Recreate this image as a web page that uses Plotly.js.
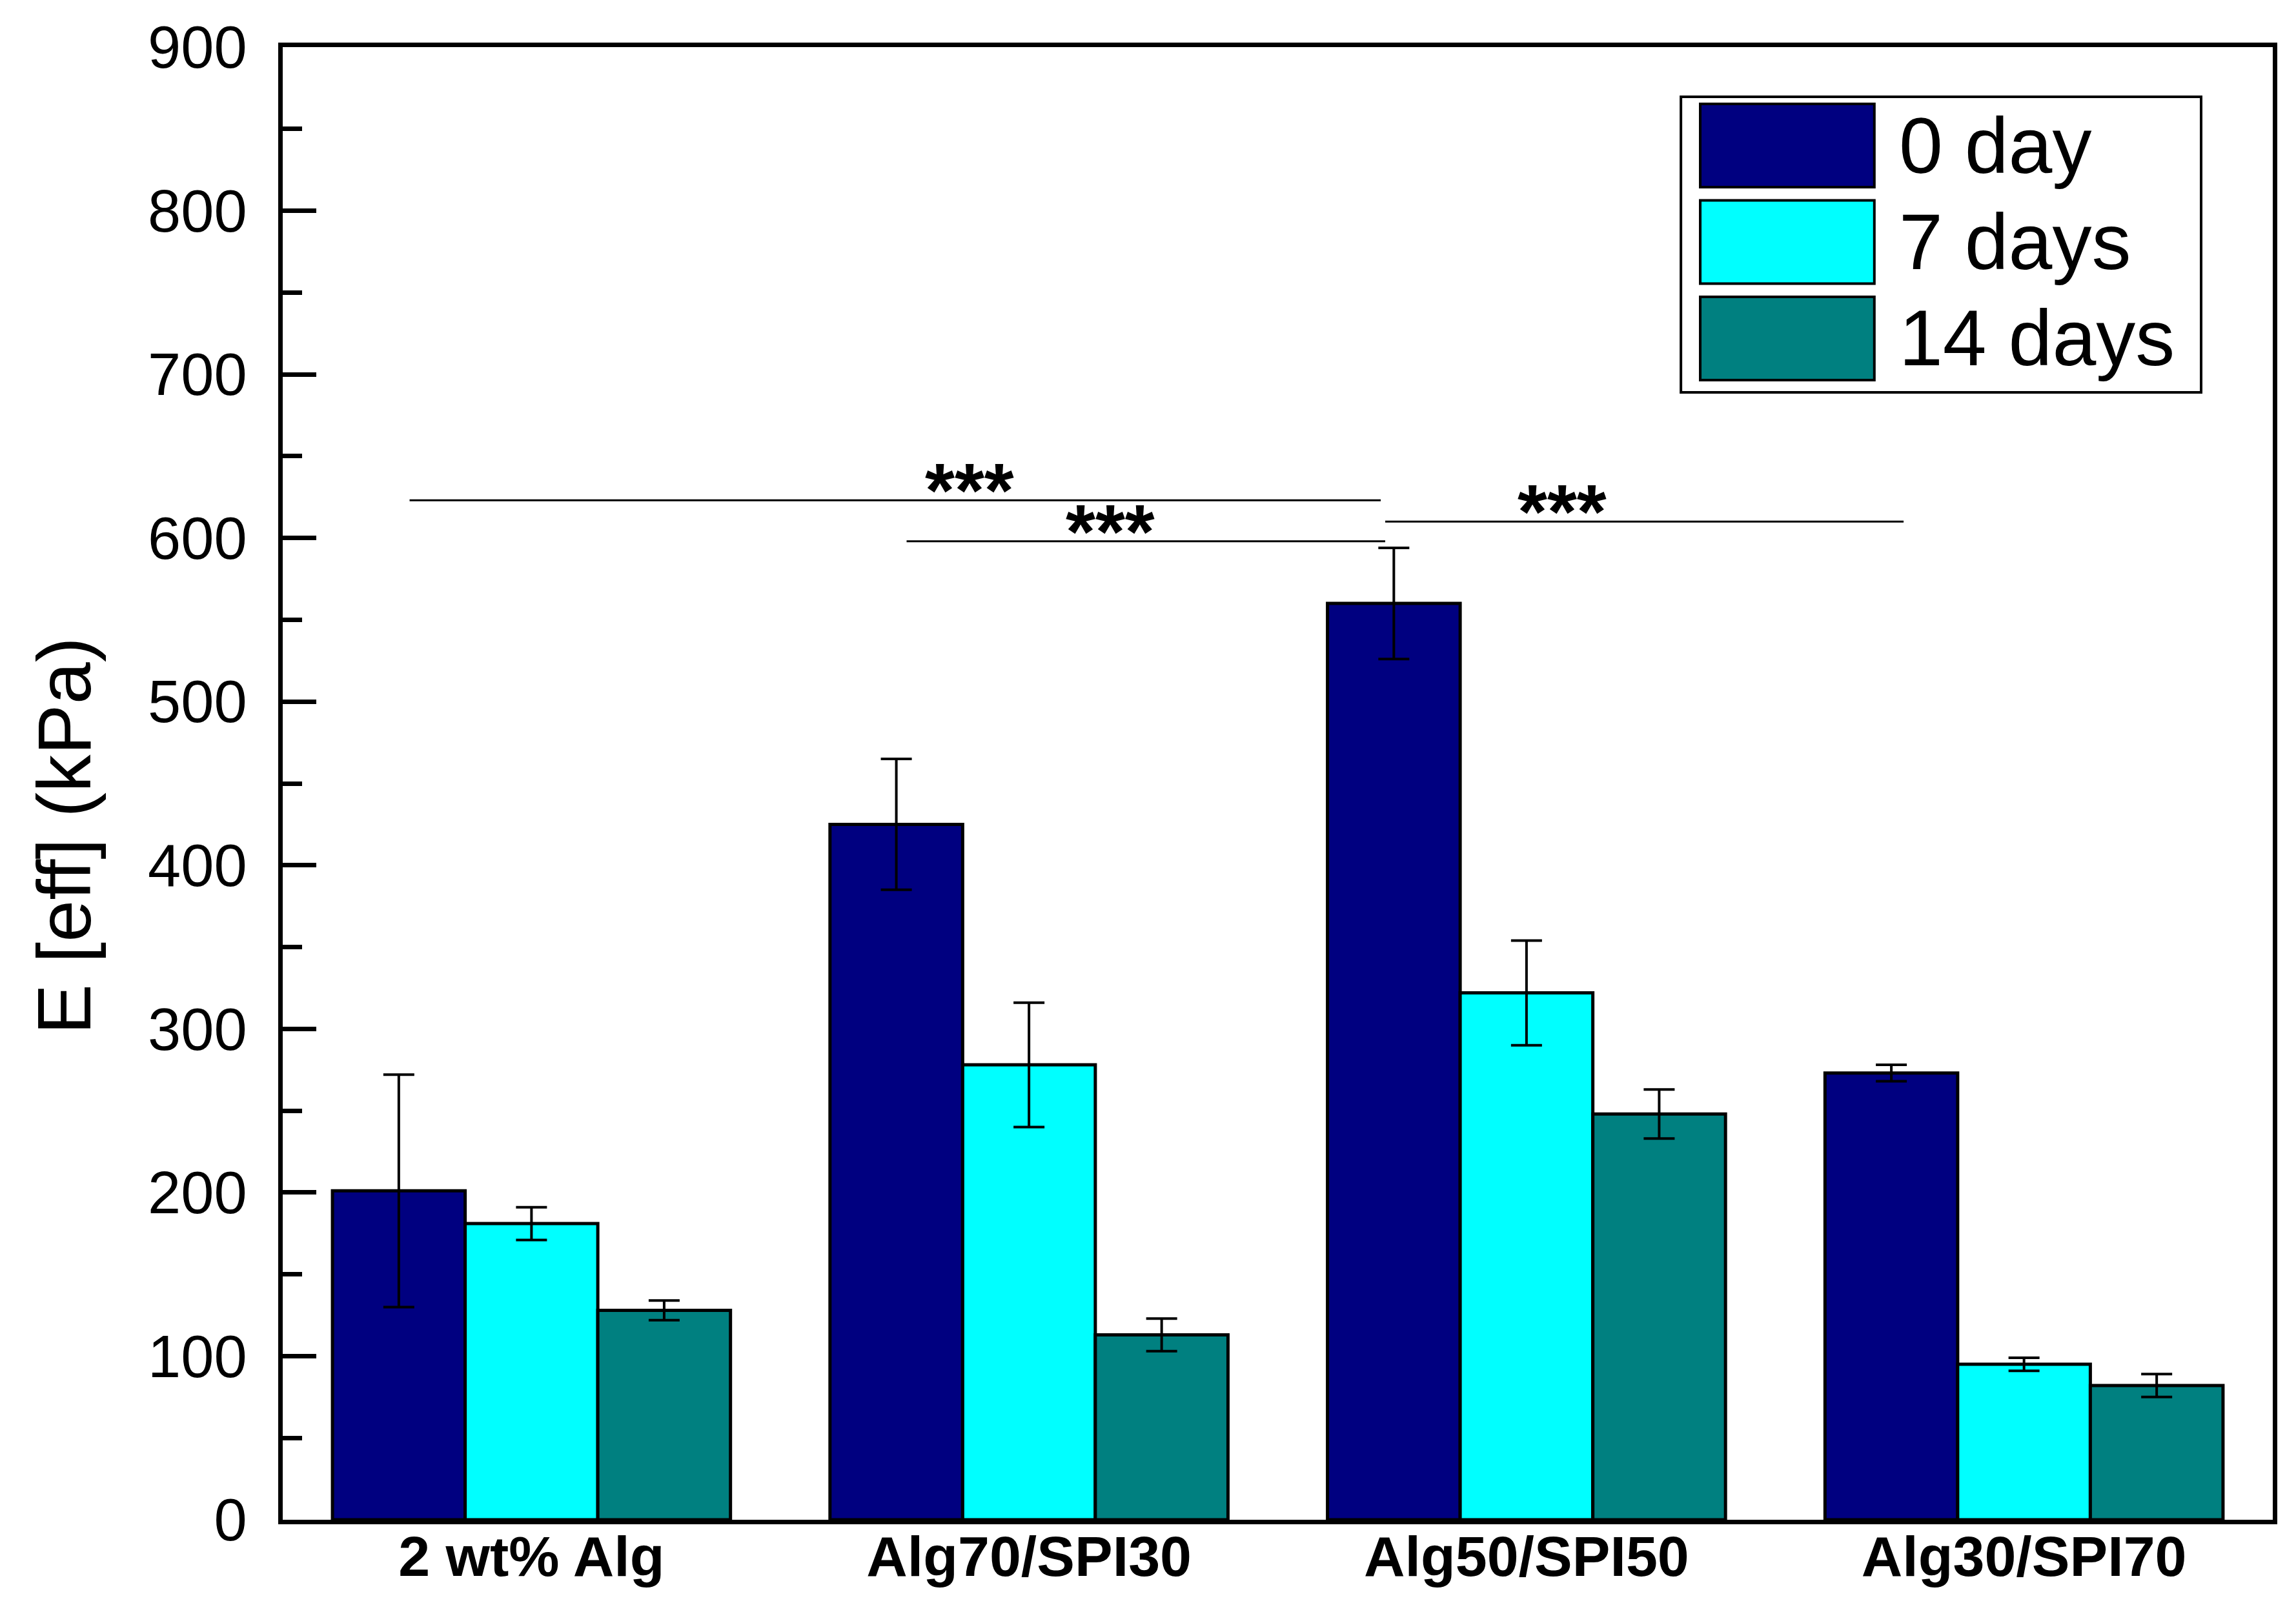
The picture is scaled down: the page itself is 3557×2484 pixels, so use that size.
<!DOCTYPE html>
<html>
<head>
<meta charset="utf-8">
<script src="https://cdn.plot.ly/plotly-3.0.1.min.js"></script>
<style>
  html, body { margin: 0; padding: 0; background: #fff; }
  #chart { width: 3557px; height: 2484px; }
</style>
</head>
<body>
<div id="chart"></div>
<script>
const categories = ["2 wt% Alg", "Alg70/SPI30", "Alg50/SPI50", "Alg30/SPI70"];
const seriesNames = ["0 day", "7 days", "14 days"];
const seriesColors = ["#000080", "#00FFFF", "#008080"];

const day0 = [201, 425, 560, 273];
const day0Err = [71, 40, 34, 5];
const day7 = [181, 278, 322, 95];
const day7Err = [10, 38, 32, 4];
const day14 = [128, 113, 248, 82];
const day14Err = [6, 10, 15, 7];

// significance brackets: [x start, x end, y] in data units, star label position
const sigLines = [
  [-0.245, 1.707, 623],
  [0.754, 1.716, 598],
  [1.716, 2.758, 610],
];
const sigStars = [
  [0.88, 629],
  [1.163, 604],
  [2.071, 616],
];

const values = [day0, day7, day14];
const errors = [day0Err, day7Err, day14Err];

const FONT = "Liberation Sans, Arial, sans-serif";

const data = values.map((vals, i) => ({
  type: "bar",
  x: categories.map((c, k) => k),
  y: vals,
  name: seriesNames[i],
  marker: { color: seriesColors[i], line: { color: "#000", width: 5 } },
  error_y: {
    type: "data",
    array: errors[i],
    visible: true,
    color: "#000",
    thickness: 4,
    width: 24,
  },
  showlegend: false,
}));

const shapes = sigLines.map((s) => ({
  type: "line",
  xref: "x",
  yref: "y",
  x0: s[0],
  x1: s[1],
  y0: s[2],
  y1: s[2],
  line: { color: "#000", width: 3 },
}));

const annotations = sigStars.map((s) => ({
  xref: "x",
  yref: "y",
  x: s[0],
  y: s[1],
  text: "***",
  showarrow: false,
  xanchor: "center",
  yanchor: "middle",
  font: { family: FONT, size: 118, color: "#000", weight: "bold" },
}));

// y axis title placed by hand (sits a bit below axis middle)
annotations.push({
  xref: "paper",
  yref: "paper",
  x: -0.11,
  y: 0.4645,
  text: "E [eff] (kPa)",
  textangle: -90,
  showarrow: false,
  xanchor: "center",
  yanchor: "middle",
  font: { family: FONT, size: 117, color: "#000" },
});

// custom legend with large swatches
const legX0 = 0.7026, legX1 = 0.964, legTop = 0.9663, legBottom = 0.7656;
shapes.push({
  type: "rect",
  xref: "paper",
  yref: "paper",
  x0: legX0,
  x1: legX1,
  y0: legBottom,
  y1: legTop,
  line: { color: "#000", width: 4 },
  fillcolor: "#fff",
});
seriesNames.forEach((name, i) => {
  const top = 0.9614 - i * 0.0655;
  const bottom = top - 0.0565;
  shapes.push({
    type: "rect",
    xref: "paper",
    yref: "paper",
    x0: 0.7123,
    x1: 0.7998,
    y0: bottom,
    y1: top,
    line: { color: "#000", width: 4 },
    fillcolor: seriesColors[i],
  });
  annotations.push({
    xref: "paper",
    yref: "paper",
    x: 0.8115,
    y: (top + bottom) / 2,
    text: name,
    showarrow: false,
    xanchor: "left",
    yanchor: "middle",
    font: { family: FONT, size: 122, color: "#000" },
  });
});

const layout = {
  width: 3557,
  height: 2484,
  paper_bgcolor: "#fff",
  plot_bgcolor: "#fff",
  margin: { l: 438, r: 36, t: 73, b: 129, pad: 0 },
  barmode: "group",
  bargap: 0.2,
  bargroupgap: 0,
  showlegend: false,
  font: { family: FONT, color: "#000" },
  xaxis: {
    range: [-0.5, 3.5],
    tickmode: "array",
    tickvals: categories.map((c, k) => k),
    ticktext: categories,
    ticks: "",
    showline: true,
    linecolor: "#000",
    linewidth: 7,
    mirror: true,
    showgrid: false,
    zeroline: false,
    ticklabelstandoff: -26,
    tickfont: { family: FONT, size: 88, color: "#000", weight: "bold" },
  },
  yaxis: {
    range: [0, 900],
    dtick: 100,
    tick0: 0,
    ticks: "inside",
    ticklen: 52,
    tickwidth: 7,
    tickcolor: "#000",
    minor: {
      dtick: 50,
      ticks: "inside",
      ticklen: 30,
      tickwidth: 7,
      tickcolor: "#000",
      showgrid: false,
    },
    showline: true,
    linecolor: "#000",
    linewidth: 7,
    mirror: true,
    showgrid: false,
    zeroline: false,
    ticklabelstandoff: 30,
    tickfont: { family: FONT, size: 92, color: "#000" },
  },
  shapes: shapes,
  annotations: annotations,
};

Plotly.newPlot("chart", data, layout, { staticPlot: true, displayModeBar: false });
</script>
</body>
</html>
